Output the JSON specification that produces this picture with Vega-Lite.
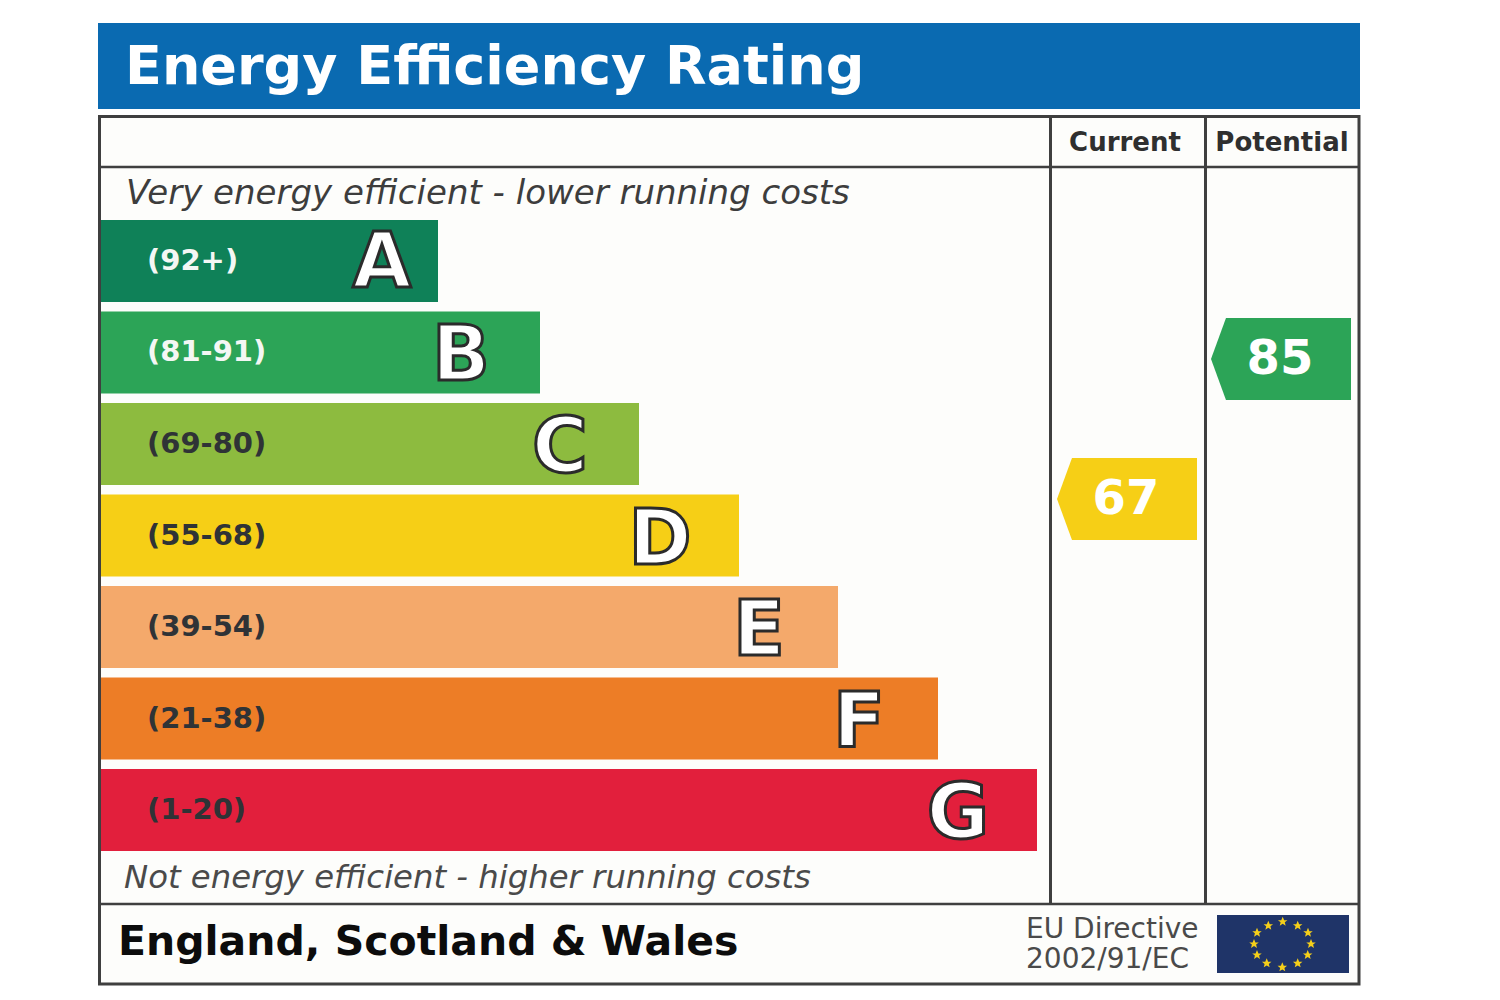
{
"$schema":"https://vega.github.io/schema/vega-lite/v6.json",
"width":1500,"height":1000,"padding":0,"autosize":{"type":"none"},"background":"#ffffff",
"config":{"view":{"stroke":null},"axis":{"domain":false}},
"datasets":{
"bands":[
{"band":"A","range":"(92+)","end":438},
{"band":"B","range":"(81-91)","end":540},
{"band":"C","range":"(69-80)","end":639},
{"band":"D","range":"(55-68)","end":739},
{"band":"E","range":"(39-54)","end":838},
{"band":"F","range":"(21-38)","end":938},
{"band":"G","range":"(1-20)","end":1037}],
"ratings":[
{"column":"Current","rating":67,"band":"D"},
{"column":"Potential","rating":85,"band":"B"}],
"stars":[
{"h":1282.7,"v":921.7},{"h":1297.7,"v":925.7},{"h":1308,"v":932.7},{"h":1311,"v":944},{"h":1307.7,"v":955},{"h":1297.7,"v":963.3},{"h":1282.3,"v":967.3},{"h":1266.7,"v":963.3},{"h":1257,"v":955},{"h":1254,"v":944},{"h":1257,"v":932.7},{"h":1268.3,"v":925.7}]
},
"data":{"values":[{"sheet":"EPC"}]},
"resolve":{"scale":{"x":"independent","y":"independent","color":"independent"}},
"layer":[
{"mark":{"type":"rect","color":"#0a6ab1"},"encoding":{"x":{"datum":98,"type":"quantitative","scale":{"domain":[0,1500]},"axis":null},"x2":{"datum":1360},"y":{"datum":23,"type":"quantitative","scale":{"domain":[1000,0]},"axis":null},"y2":{"datum":109}}},
{"mark":{"type":"rect","fill":"#fdfdfb","stroke":"#3f3f3f","strokeWidth":3},"encoding":{"x":{"datum":99.5,"type":"quantitative","scale":{"domain":[0,1500]},"axis":null},"x2":{"datum":1359},"y":{"datum":116.5,"type":"quantitative","scale":{"domain":[1000,0]},"axis":null},"y2":{"datum":984}}},
{"mark":{"type":"rule","color":"#3f3f3f","strokeWidth":2.5},"encoding":{"x":{"datum":100,"type":"quantitative","scale":{"domain":[0,1500]},"axis":null},"x2":{"datum":1359},"y":{"datum":167,"type":"quantitative","scale":{"domain":[1000,0]},"axis":null}}},
{"mark":{"type":"rule","color":"#3f3f3f","strokeWidth":2.5},"encoding":{"x":{"datum":100,"type":"quantitative","scale":{"domain":[0,1500]},"axis":null},"x2":{"datum":1359},"y":{"datum":904,"type":"quantitative","scale":{"domain":[1000,0]},"axis":null}}},
{"mark":{"type":"rule","color":"#3f3f3f","strokeWidth":3},"encoding":{"x":{"datum":1050.5,"type":"quantitative","scale":{"domain":[0,1500]},"axis":null},"y":{"datum":116,"type":"quantitative","scale":{"domain":[1000,0]},"axis":null},"y2":{"datum":904}}},
{"mark":{"type":"rule","color":"#3f3f3f","strokeWidth":3},"encoding":{"x":{"datum":1205.5,"type":"quantitative","scale":{"domain":[0,1500]},"axis":null},"y":{"datum":116,"type":"quantitative","scale":{"domain":[1000,0]},"axis":null},"y2":{"datum":904}}},
{"mark":{"type":"rect","color":"#1f3468"},"encoding":{"x":{"datum":1217,"type":"quantitative","scale":{"domain":[0,1500]},"axis":null},"x2":{"datum":1349},"y":{"datum":915,"type":"quantitative","scale":{"domain":[1000,0]},"axis":null},"y2":{"datum":973}}},
{"data":{"name":"stars"},"mark":{"type":"point","filled":true,"opacity":1,"color":"#f5cf1a","size":100,"shape":"M0 -1 L0.29 -0.31 L0.95 -0.31 L0.42 0.12 L0.59 0.81 L0 0.42 L-0.59 0.81 L-0.42 0.12 L-0.95 -0.31 L-0.29 -0.31 Z"},"encoding":{"x":{"field":"h","type":"quantitative","scale":{"domain":[0,1500]},"axis":null},"y":{"field":"v","type":"quantitative","scale":{"domain":[1000,0]},"axis":null}}},
{"data":{"name":"bands"},"mark":{"type":"bar"},"encoding":{
"x":{"field":"end","type":"quantitative","scale":{"domain":[0,1500]},"axis":null},
"x2":{"datum":101},
"y":{"field":"band","type":"nominal","scale":{"type":"band","domain":["A","B","C","D","E","F","G"],"range":[220,851],"paddingInner":0.105,"paddingOuter":0},"axis":null},
"color":{"field":"band","type":"nominal","legend":null,"scale":{"domain":["A","B","C","D","E","F","G"],"range":["#0f8158","#2ca457","#8dbb3f","#f6cf16","#f4a96b","#ed7d26","#e21f3c"]}}}},
{"data":{"name":"bands"},"mark":{"type":"text","align":"left","baseline":"middle","font":"DejaVu Sans","fontWeight":"bold","fontSize":29},"encoding":{
"x":{"datum":147,"type":"quantitative","scale":{"domain":[0,1500]},"axis":null},
"y":{"field":"band","type":"nominal","scale":{"type":"band","domain":["A","B","C","D","E","F","G"],"range":[220,851],"paddingInner":0.105,"paddingOuter":0},"axis":null},
"text":{"field":"range","type":"nominal"},
"color":{"condition":{"test":"datum.band==='A'||datum.band==='B'","value":"#f4f7f4"},"value":"#2f3336"}}},
{"data":{"name":"bands"},"transform":[{"filter":"datum.band!=='A'"}],"mark":{"type":"text","align":"center","baseline":"middle","font":"DejaVu Sans","fontWeight":"bold","fontSize":76,"dx":-79,"dy":5,"fill":"#ffffff","stroke":"#2b2b2b","strokeWidth":3},"encoding":{
"x":{"field":"end","type":"quantitative","scale":{"domain":[0,1500]},"axis":null},
"y":{"field":"band","type":"nominal","scale":{"type":"band","domain":["A","B","C","D","E","F","G"],"range":[220,851],"paddingInner":0.105,"paddingOuter":0},"axis":null},
"text":{"field":"band","type":"nominal"}}},
{"data":{"name":"bands"},"transform":[{"filter":"datum.band==='A'"}],"mark":{"type":"text","align":"center","baseline":"middle","font":"DejaVu Sans","fontWeight":"bold","fontSize":76,"dx":-56,"dy":3,"fill":"#ffffff","stroke":"#2b2b2b","strokeWidth":3},"encoding":{
"x":{"field":"end","type":"quantitative","scale":{"domain":[0,1500]},"axis":null},
"y":{"field":"band","type":"nominal","scale":{"type":"band","domain":["A","B","C","D","E","F","G"],"range":[220,851],"paddingInner":0.105,"paddingOuter":0},"axis":null},
"text":{"field":"band","type":"nominal"}}},
{"data":{"name":"ratings"},"mark":{"type":"point","filled":true,"opacity":1,"size":19600,"shape":"M-1 0 L-0.786 -0.586 L1 -0.586 L1 0.586 L-0.786 0.586 Z"},"encoding":{
"x":{"field":"column","type":"nominal","scale":{"type":"point","domain":["Current","Potential"],"range":[1127,1281],"padding":0},"axis":null},
"y":{"field":"rating","type":"quantitative","scale":{"domain":[67,85],"range":[499,359]},"axis":null},
"color":{"field":"band","type":"nominal","legend":null,"scale":{"domain":["A","B","C","D","E","F","G"],"range":["#0f8158","#2ca457","#8dbb3f","#f6cf16","#f4a96b","#ed7d26","#e21f3c"]}}}},
{"data":{"name":"ratings"},"mark":{"type":"text","align":"center","baseline":"middle","font":"DejaVu Sans","fontWeight":"bold","fontSize":48,"color":"#ffffff","dx":-1,"dy":1},"encoding":{
"x":{"field":"column","type":"nominal","scale":{"type":"point","domain":["Current","Potential"],"range":[1127,1281],"padding":0},"axis":null},
"y":{"field":"rating","type":"quantitative","scale":{"domain":[67,85],"range":[499,359]},"axis":null},
"text":{"field":"rating","type":"quantitative"}}},
{"data":{"name":"ratings"},"mark":{"type":"text","align":"center","baseline":"alphabetic","font":"DejaVu Sans","fontWeight":"bold","fontSize":26,"color":"#2f2f2f"},"encoding":{
"x":{"field":"column","type":"nominal","scale":{"type":"point","domain":["Current","Potential"],"range":[1125,1282],"padding":0},"axis":null},
"y":{"datum":151,"type":"quantitative","scale":{"domain":[1000,0]},"axis":null},
"text":{"field":"column","type":"nominal"}}},
{"mark":{"type":"text","align":"left","baseline":"alphabetic","font":"DejaVu Sans","fontWeight":"bold","fontSize":54,"color":"#ffffff"},"encoding":{"x":{"datum":125,"type":"quantitative","scale":{"domain":[0,1500]},"axis":null},"y":{"datum":84,"type":"quantitative","scale":{"domain":[1000,0]},"axis":null},"text":{"value":"Energy Efficiency Rating"}}},
{"mark":{"type":"text","align":"left","baseline":"alphabetic","font":"DejaVu Sans","fontStyle":"italic","fontSize":34,"color":"#3d3d3d"},"encoding":{"x":{"datum":126,"type":"quantitative","scale":{"domain":[0,1500]},"axis":null},"y":{"datum":204,"type":"quantitative","scale":{"domain":[1000,0]},"axis":null},"text":{"value":"Very energy efficient - lower running costs"}}},
{"mark":{"type":"text","align":"left","baseline":"alphabetic","font":"DejaVu Sans","fontStyle":"italic","fontSize":32.3,"color":"#4a4a4a"},"encoding":{"x":{"datum":124,"type":"quantitative","scale":{"domain":[0,1500]},"axis":null},"y":{"datum":888,"type":"quantitative","scale":{"domain":[1000,0]},"axis":null},"text":{"value":"Not energy efficient - higher running costs"}}},
{"mark":{"type":"text","align":"left","baseline":"alphabetic","font":"DejaVu Sans","fontWeight":"bold","fontSize":41,"color":"#0c0c0c"},"encoding":{"x":{"datum":118,"type":"quantitative","scale":{"domain":[0,1500]},"axis":null},"y":{"datum":955,"type":"quantitative","scale":{"domain":[1000,0]},"axis":null},"text":{"value":"England, Scotland & Wales"}}},
{"mark":{"type":"text","align":"left","baseline":"alphabetic","font":"DejaVu Sans","fontSize":28,"color":"#4a4a4a"},"encoding":{"x":{"datum":1026,"type":"quantitative","scale":{"domain":[0,1500]},"axis":null},"y":{"datum":938,"type":"quantitative","scale":{"domain":[1000,0]},"axis":null},"text":{"value":"EU Directive"}}},
{"mark":{"type":"text","align":"left","baseline":"alphabetic","font":"DejaVu Sans","fontSize":28,"color":"#4a4a4a"},"encoding":{"x":{"datum":1026,"type":"quantitative","scale":{"domain":[0,1500]},"axis":null},"y":{"datum":968,"type":"quantitative","scale":{"domain":[1000,0]},"axis":null},"text":{"value":"2002/91/EC"}}}
]
}
